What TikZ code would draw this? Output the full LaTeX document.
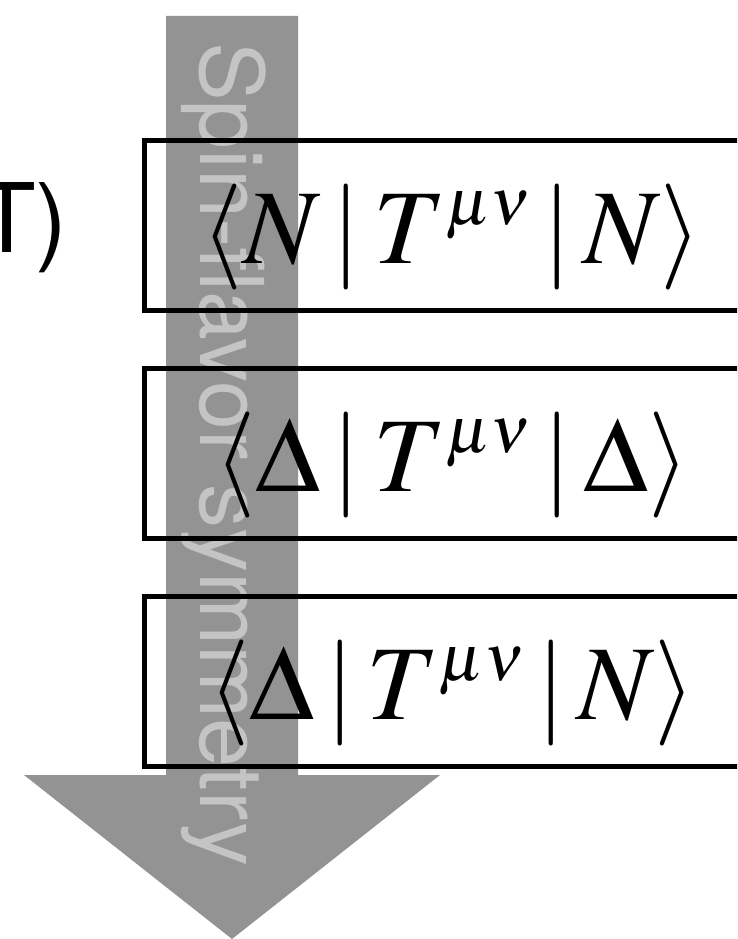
\documentclass[tikz,border=0pt]{standalone}
\usepackage{mathptmx}
\usepackage[no-math]{fontspec}
\newfontfamily\helv{TeX Gyre Heros}
\usetikzlibrary{positioning}
\DeclareMathSizes{106}{106}{66}{50}
\definecolor{arrowgray}{RGB}{147,147,147}
\definecolor{textgray}{RGB}{196,196,196}
\newcommand{\barsep}{\mkern2mu|\mkern2mu}
\tikzstyle{matrixel} = [rectangle, minimum width=615pt, minimum height=170pt, inner sep=0pt, line width=5pt, draw=black, text centered, text height=76pt, text depth=0pt, font=\fontsize{106}{110}\selectfont]
\tikzstyle{bandtext} = [rotate=-90, anchor=base west, inner sep=0pt, text=textgray, font=\helv\fontsize{88}{90}\selectfont]
\tikzstyle{sidetext} = [anchor=base east, inner sep=0pt, font=\helv\fontsize{96}{98}\selectfont]

\begin{document}
\begin{tikzpicture}[x=1pt, y=-1pt, node distance=228pt]
				\clip (0,0) rectangle (737,939);
				% broad arrow behind everything
				\fill [arrowgray] (166,16) -- (298,16) -- (298,775) -- (440,775) -- (232,939) -- (24,775) -- (166,775) -- cycle;
				\node (band) [bandtext] at (200,42) {Spin-flavor symmetry};
				
				\node (emt) [sidetext] at (68,252) {T)};
				
				\node (nn) [matrixel] at (452,225) {$\langle N\barsep T^{\mu\nu}\barsep N\rangle$};
				\node (dd) [matrixel, below of=nn] {$\langle\Delta\barsep T^{\mu\nu}\barsep\Delta\rangle$};
				\node (dn) [matrixel, below of=dd] {$\langle\Delta\barsep T^{\mu\nu}\barsep N\rangle$};
\end{tikzpicture}
\end{document}
